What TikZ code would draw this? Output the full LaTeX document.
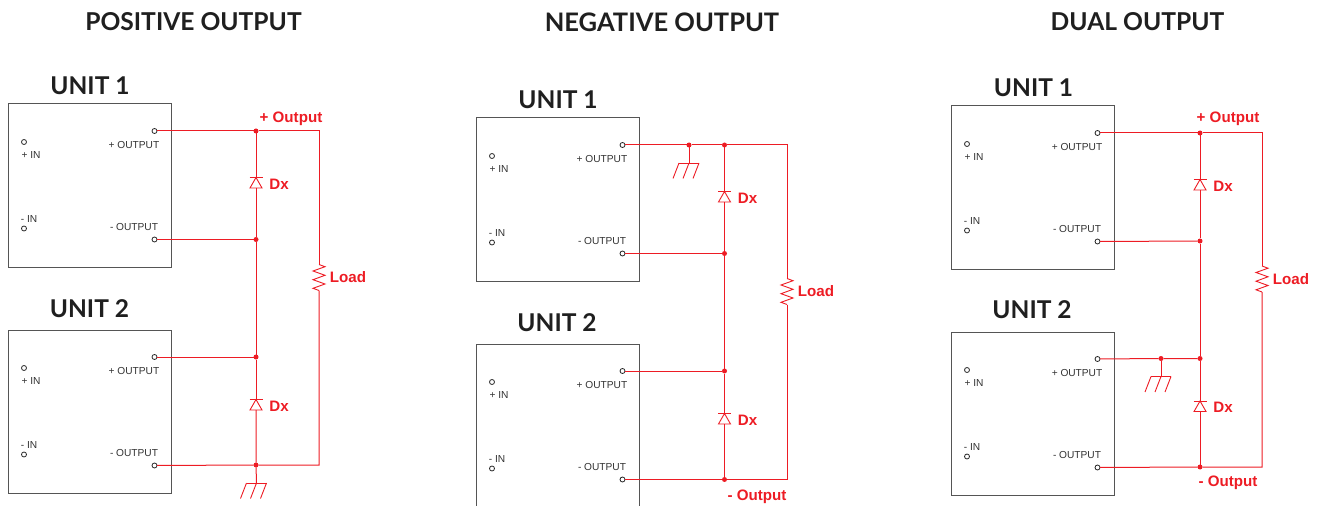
\documentclass[tikz,border=0pt]{standalone}
\usepackage{fontspec}
\setmainfont{Liberation Sans}
\newfontfamily\headf{Lato}
\definecolor{wirered}{HTML}{ED1C24}
\definecolor{boxgray}{HTML}{555555}
\definecolor{txtgray}{HTML}{333333}
\tikzset{
  unitbox/.style={draw=boxgray,line width=1pt,fill=white,minimum width=163bp,minimum height=163bp,inner sep=0pt,outer sep=0pt,anchor=north west},
  term/.style={circle,draw=black!85,fill=white,line width=0.8pt,minimum size=5bp,inner sep=0pt,outer sep=0pt},
  small/.style={font=\fontsize{10.2}{12}\selectfont,text=txtgray,inner sep=0pt},
  unitlabel/.style={font=\headf\bfseries\fontsize{24.6}{30}\selectfont,text=black!88,inner sep=0pt},
  headlabel/.style={font=\headf\bfseries\fontsize{#1}{30}\selectfont,text=black!88,inner sep=0pt},
  redlabel/.style={font=\bfseries\fontsize{15.2}{18}\selectfont,text=wirered,inner sep=0pt},
  wire/.style={draw=wirered,line width=1bp},
  thin wire/.style={draw=wirered,line width=0.9bp},
  junction/.style={circle,fill=wirered,minimum size=5bp,inner sep=0pt,outer sep=0pt},
}
\newcommand{\unitblk}[6]{% prefix, x, y, label number, label dx, label dy
  \node[unitbox] (#1box) at (#2,#3) {};
  \node[unitlabel] (#1lab) at (#2+82+#5,#3+#6) {UNIT #4};
  \node[term] (#1po) at (#2+146.5,#3+27) {};
  \node[term] (#1no) at (#2+146.5,#3+135.5) {};
  \node[term] (#1pi) at (#2+16,#3+38) {};
  \node[term] (#1ni) at (#2+16,#3+124.5) {};
  \node[small] (#1pot) at (#2+126,#3+41) {+ OUTPUT};
  \node[small] (#1not) at (#2+126,#3+123) {- OUTPUT};
  \node[small] (#1pit) at (#2+23,#3+51) {+ IN};
  \node[small] (#1nit) at (#2+21,#3+115.5) {- IN};
}
\newcommand{\diode}[3]{% name, x, y centre
  \coordinate (#1t) at (#2,#3-6.5);
  \coordinate (#1b) at (#2,#3+4);
  \draw[thin wire,fill=white] (#1b) ++(-6,0) -- ++(12,0) -- (#1t) -- cycle;
  \draw[thin wire] (#2-6.5,#3-6.5) -- (#2+6.5,#3-6.5);
  \node[redlabel] (#1lab) at (#2+23,#3) {Dx};
}
\newcommand{\resistor}[3]{% name, x, y centre
  \coordinate (#1t) at (#2,#3-13);
  \coordinate (#1b) at (#2,#3+13);
  \draw[thin wire] (#1t) -- (#2+6,#3-10.8) -- (#2-6,#3-6.5) -- (#2+6,#3-2.2) -- (#2-6,#3+2.2) -- (#2+6,#3+6.5) -- (#2-6,#3+10.8) -- (#1b);
  \node[redlabel] (#1lab) at (#2+29,#3) {Load};
}
\newcommand{\ground}[3]{% name, x, y of bar
  \coordinate (#1) at (#2,#3);
  \draw[thin wire] (#2-10,#3) -- (#2+10,#3);
  \draw[thin wire] (#2-10,#3) -- (#2-16,#3+15.5);
  \draw[thin wire] (#2,#3) -- (#2-6,#3+15.5);
  \draw[thin wire] (#2+10,#3) -- (#2+4,#3+15.5);
}
\begin{document}
\begin{tikzpicture}[x=1bp,y=-1bp]
\useasboundingbox (0,0) rectangle (1318,506);
\clip (0,0) rectangle (1318,506);
\node[headlabel=24.7] (h1) at (193.5,22) {POSITIVE OUTPUT};
\node[headlabel=25.6] (h2) at (662,22) {NEGATIVE OUTPUT};
\node[headlabel=24.7] (h3) at (1137.5,22) {DUAL OUTPUT};

% ---------- positive
\unitblk{a}{8}{104}{1}{0}{-18}
\unitblk{b}{8}{330}{2}{-0.5}{-21}
\node[junction] (aj1) at (256,131) {};
\node[junction] (aj2) at (256,239.5) {};
\node[junction] (aj3) at (256,357) {};
\node[junction] (aj4) at (256,465) {};
\coordinate (acr1) at (319,131);
\coordinate (acr2) at (319,465);
\diode{ad1}{256}{184}
\diode{ad2}{256}{406}
\resistor{ar}{319}{277.5}
\ground{ag}{256.5}{483}
\draw[wire] (apo) -- (aj1) -- (acr1) -- (art);
\draw[wire] (arb) -- (acr2) -- (aj4) -- (bno);
\draw[wire] (ano) -- (aj2);
\draw[wire] (bpo) -- (aj3);
\draw[wire] (aj1) -- (ad1t);
\draw[wire] (ad1b) -- (aj2) -- (aj3) -- (ad2t);
\draw[wire] (ad2b) -- (aj4) -- (ag);
\node[redlabel] (ap) at (291,119) {+ Output};

% ---------- negative
\unitblk{c}{476}{118}{1}{0}{-18}
\unitblk{d}{476}{344}{2}{-1}{-21}
\node[junction] (cj0) at (689,145) {};
\node[junction] (cj1) at (724.5,145) {};
\node[junction] (cj2) at (724.5,253.5) {};
\node[junction] (cj3) at (724.5,371) {};
\node[junction] (cj4) at (724.5,479.5) {};
\coordinate (ccr1) at (787,145);
\coordinate (ccr2) at (787,479.5);
\diode{cd1}{724.5}{198}
\diode{cd2}{724.5}{420}
\resistor{cr}{787}{291.5}
\ground{cg}{689}{163}
\draw[wire] (cpo) -- (cj0) -- (cj1) -- (ccr1) -- (crt);
\draw[wire] (crb) -- (ccr2) -- (cj4) -- (dno);
\draw[wire] (cno) -- (cj2);
\draw[wire] (dpo) -- (cj3);
\draw[wire] (cj0) -- (cg);
\draw[wire] (cj1) -- (cd1t);
\draw[wire] (cd1b) -- (cj2) -- (cj3) -- (cd2t);
\draw[wire] (cd2b) -- (cj4);
\node[redlabel] (cn) at (757,497) {- Output};

% ---------- dual
\unitblk{e}{951}{106}{1}{0.5}{-18}
\unitblk{f}{951}{332}{2}{-1}{-22}
\node[junction] (ej1) at (1200,133) {};
\node[junction] (ej2) at (1200,241) {};
\node[junction] (ej3) at (1200,358.5) {};
\node[junction] (ej0) at (1161,358.5) {};
\node[junction] (ej4) at (1200,467) {};
\coordinate (ecr1) at (1262,133);
\coordinate (ecr2) at (1262,467);
\diode{ed1}{1200}{186}
\diode{ed2}{1200}{407.5}
\resistor{er}{1262}{279}
\ground{eg}{1161}{376.5}
\draw[wire] (epo) -- (ej1) -- (ecr1) -- (ert);
\draw[wire] (erb) -- (ecr2) -- (ej4) -- (fno);
\draw[wire] (eno) -- (ej2);
\draw[wire] (fpo) -- (ej0) -- (ej3);
\draw[wire] (ej0) -- (eg);
\draw[wire] (ej1) -- (ed1t);
\draw[wire] (ed1b) -- (ej2) -- (ej3) -- (ed2t);
\draw[wire] (ed2b) -- (ej4);
\node[redlabel] (ep) at (1228,119) {+ Output};
\node[redlabel] (en) at (1228,483) {- Output};
\end{tikzpicture}
\end{document}
